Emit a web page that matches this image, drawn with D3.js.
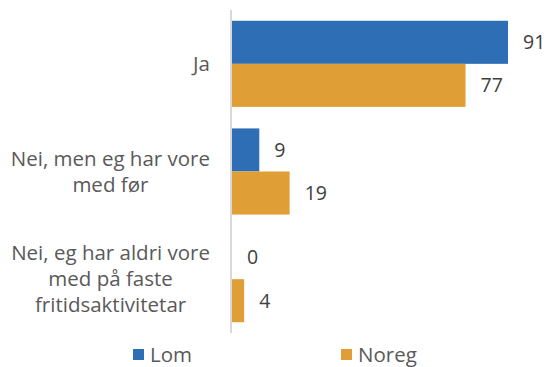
<!DOCTYPE html>
<html>
<head>
<meta charset="utf-8">
<script src="https://cdn.jsdelivr.net/npm/d3@7"></script>
<style>
  html, body { margin: 0; padding: 0; background: #fff; }
  svg { display: block; }
  text { font-family: "Open Sans", "Liberation Sans", sans-serif; }
</style>
</head>
<body>
<svg id="chart" width="548" height="367"></svg>
<script>
// Answer categories (each line of a wrapped label is a separate entry)
const categories = [
  ["Ja"],
  ["Nei, men eg har vore", "med før"],
  ["Nei, eg har aldri vore", "med på faste", "fritidsaktivitetar"]
];
const seriesNames = ["Lom", "Noreg"];
const lomValues = [91, 9, 0];
const noregValues = [77, 19, 4];
const seriesColors = ["#2E6EB5", "#E09F36"];

const svg = d3.select("#chart");
const xAxisPos = 231;
const labelRight = 210;
const valueFs = 19.5;
const labelFs = 20.5;

const x = d3.scaleLinear().domain([0, 91]).range([232, 508]);
const y = d3.scaleBand().domain(d3.range(categories.length)).range([10, 333])
  .paddingInner(0.2).paddingOuter(0.1);
const ySub = d3.scaleBand().domain(seriesNames).range([0, y.bandwidth()]);

const seriesValues = [lomValues, noregValues];

// Bars
const groups = svg.selectAll("g.grp").data(categories).join("g")
  .attr("class", "grp")
  .attr("transform", (d, i) => `translate(0,${y(i)})`);

groups.each(function(cat, i) {
  const g = d3.select(this);
  seriesNames.forEach((s, si) => {
    const v = seriesValues[si][i];
    g.append("rect")
      .attr("x", x(0))
      .attr("y", ySub(s))
      .attr("width", x(v) - x(0))
      .attr("height", ySub.bandwidth())
      .attr("fill", seriesColors[si]);
    g.append("text")
      .attr("x", x(v) + 15)
      .attr("y", ySub(s) + ySub.bandwidth() / 2)
      .attr("dy", "0.35em")
      .attr("font-size", valueFs)
      .attr("fill", "#404040")
      .text(v);
  });
  // Category label: lines centred within a block that is right-aligned to the axis
  const lh = 26;
  const n = cat.length;
  const t = g.append("text")
    .attr("text-anchor", "middle")
    .attr("font-size", labelFs)
    .attr("fill", "#595959");
  const spans = cat.map((line, li) =>
    t.append("tspan")
      .attr("y", y.bandwidth() / 2 + (li - (n - 1) / 2) * lh)
      .attr("dy", "0.35em")
      .text(line));
  const maxW = d3.max(spans, sp => sp.node().getComputedTextLength());
  spans.forEach(sp => sp.attr("x", labelRight - maxW / 2));
});

// Vertical category axis line
svg.append("line")
  .attr("x1", xAxisPos).attr("x2", xAxisPos)
  .attr("y1", 10).attr("y2", 333)
  .attr("stroke", "#d9d9d9").attr("stroke-width", 2);

// Legend
const legendX = [133, 341];
seriesNames.forEach((s, si) => {
  const lg = svg.append("g").attr("transform", `translate(${legendX[si]},349)`);
  lg.append("rect").attr("width", 11).attr("height", 11).attr("fill", seriesColors[si]);
  lg.append("text").attr("x", 17).attr("y", 5.5).attr("dy", "0.35em")
    .attr("font-size", labelFs).attr("fill", "#595959").text(s);
});
</script>
</body>
</html>
